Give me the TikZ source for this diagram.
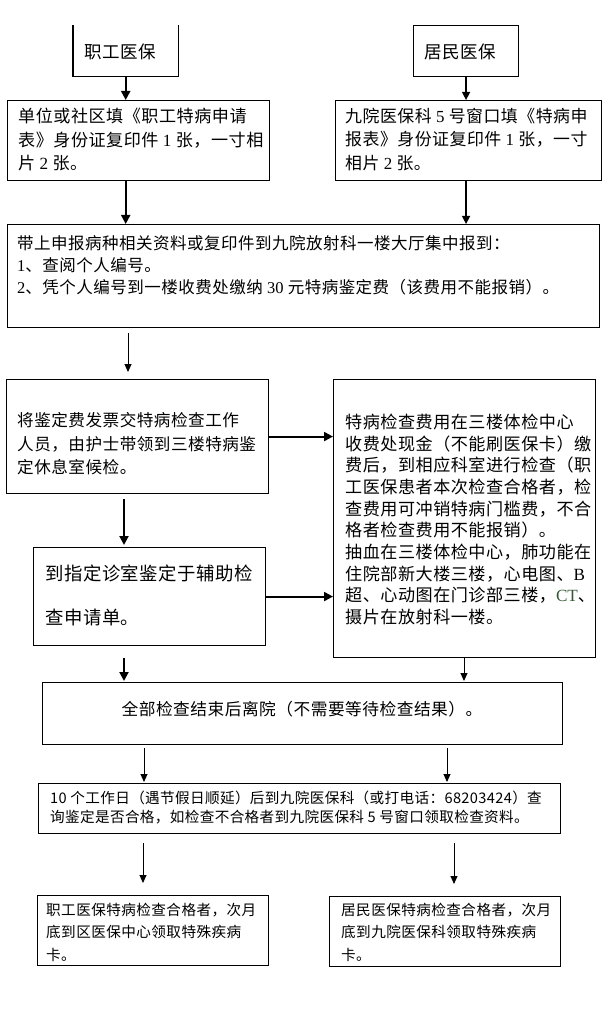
\documentclass[tikz,border=0pt]{standalone}
\usepackage{fontspec}
\setmainfont{Noto Sans CJK SC}
\newfontfamily\lat{Liberation Serif}
\usetikzlibrary{arrows.meta}
\definecolor{ctgreen}{rgb}{0.2,0.35,0.2}
\newcommand\tf[3]{\fontsize{#1}{#2}\selectfont\addfontfeature{LetterSpace=#3}}
\begin{document}
\begin{tikzpicture}[x=1pt,y=-1pt,
  box/.style={draw, line width=1.1pt, inner sep=0pt, anchor=north west},
  txt/.style={inner sep=0pt, align=left, anchor=west},
  thickarr/.style={line width=2pt, -{Triangle[length=9pt,width=9pt]}},
  midarr/.style={line width=1.4pt, -{Triangle[length=8pt,width=8pt]}},
  thinarr/.style={line width=0.9pt, -{Triangle[length=8pt,width=7pt]}},
]
\fill[white] (0,0) rectangle (603,1024);
\useasboundingbox (0,0) rectangle (603,1024);

% boxes
\node[minimum width=105pt, minimum height=51pt, inner sep=0pt, anchor=north west] (a) at (73,25) {};
\draw[line width=1.1pt] (a.north west) -- (a.south west) -- (a.south east) -- (a.north east);
\node[box, minimum width=105pt, minimum height=51pt] (b) at (413,25) {};
\node[box, minimum width=262pt, minimum height=80pt] (c) at (7,100) {};
\node[box, minimum width=266pt, minimum height=80pt] (d) at (335,100) {};
\node[box, minimum width=592pt, minimum height=103pt] (e) at (7,224) {};
\node[box, minimum width=262pt, minimum height=114pt] (f) at (6,379) {};
\node[box, minimum width=232pt, minimum height=98pt] (g) at (33,547) {};
\node[box, minimum width=262pt, minimum height=278pt] (h) at (333,379) {};
\node[box, minimum width=520pt, minimum height=62pt] (i) at (42,682) {};
\node[box, minimum width=522pt, minimum height=50pt] (j) at (38,783) {};
\node[box, minimum width=231pt, minimum height=70pt] (k) at (37,895) {};
\node[box, minimum width=231pt, minimum height=70pt] (l) at (329,896) {};

% texts
\node[txt, anchor=center, font=\tf{17.5}{20}{3}] (at) at (120,52) {职工医保};
\node[txt, anchor=center, font=\tf{17.5}{20}{3}] (bt) at (460,52) {居民医保};
\node[txt, font=\tf{17.1}{23.5}{3}] (ct) at (18,139.5)
  {单位或社区填《职工特病申请\\表》身份证复印件 {\lat 1} 张，一寸相\\片 {\lat 2} 张。};
\node[txt, font=\tf{16.9}{23.5}{3}] (dt) at (345,139.5)
  {九院医保科 {\lat 5} 号窗口填《特病申\\报表》身份证复印件 {\lat 1} 张，一寸\\相片 {\lat 2} 张。};
\node[txt, font=\tf{16.5}{22}{3}] (et) at (17,265)
  {带上申报病种相关资料或复印件到九院放射科一楼大厅集中报到：\\{\lat 1}、查阅个人编号。\\{\lat 2}、凭个人编号到一楼收费处缴纳 {\lat 30} 元特病鉴定费（该费用不能报销）。};
\node[txt, font=\tf{16.6}{23.5}{3}] (ft) at (17,444)
  {将鉴定费发票交特病检查工作\\人员，由护士带领到三楼特病鉴\\定休息室候检。};
\node[txt, font=\tf{18.4}{44}{3}] (gt) at (45,595)
  {到指定诊室鉴定于辅助检\\查申请单。};
\node[txt, font=\tf{17.1}{21.7}{3}] (ht) at (345,519.5)
  {特病检查费用在三楼体检中心\\收费处现金（不能刷医保卡）缴\\费后，到相应科室进行检查（职\\工医保患者本次检查合格者，检\\查费用可冲销特病门槛费，不合\\格者检查费用不能报销）。\\抽血在三楼体检中心，肺功能在\\住院部新大楼三楼，心电图、{\lat B}\\超、心动图在门诊部三楼，\textcolor{ctgreen}{\lat CT}、\\摄片在放射科一楼。};
\node[txt, anchor=center, font=\tf{16.7}{20}{3}] (it) at (302,709)
  {全部检查结束后离院（不需要等待检查结果）。};
\node[txt, font=\tf{14.6}{19}{2.5}] (jt) at (50,808)
  {10 个工作日（遇节假日顺延）后到九院医保科（或打电话：68203424）查\\询鉴定是否合格，如检查不合格者到九院医保科 5 号窗口领取检查资料。};
\node[txt, font=\tf{14.6}{22.5}{3}] (kt) at (46,932)
  {职工医保特病检查合格者，次月\\底到区医保中心领取特殊疾病\\卡。};
\node[txt, font=\tf{14.6}{22.5}{3}] (lt) at (341,932)
  {居民医保特病检查合格者，次月\\底到九院医保科领取特殊疾病\\卡。};

% helper x positions
\coordinate (xef) at (128,0);
\coordinate (xfg) at (124,0);
\coordinate (xhi) at (464,0);
\coordinate (xil) at (144,0);
\coordinate (xir) at (447,0);
\coordinate (xjl) at (143,0);
\coordinate (xjr) at (454,0);

% connectors
\draw[thickarr] (a.south) -- (a.south |- c.north);
\draw[midarr] (b.south) -- (b.south |- d.north);
\draw[thickarr] (a.south |- c.south) -- (a.south |- e.north);
\draw[midarr] (b.south |- d.south) -- (b.south |- e.north);
\draw[thinarr, shorten <=5pt, shorten >=7pt] (e.south -| xef) -- (f.north -| xef);
\draw[thickarr, shorten <=5pt, shorten >=2pt] (f.south -| xfg) -- (g.north -| xfg);
\draw[thickarr] (f.east) -- (f.east -| h.west);
\draw[thickarr] (g.east) -- (g.east -| h.west);
\draw[thickarr, shorten <=12pt, shorten >=1pt] (g.south -| xfg) -- (i.north -| xfg);
\draw[thinarr, shorten >=1pt] (h.south -| xhi) -- (i.north -| xhi);
\draw[thinarr, shorten <=3pt, shorten >=1pt] (i.south -| xil) -- (j.north -| xil);
\draw[thinarr, shorten <=3pt, shorten >=1pt] (i.south -| xir) -- (j.north -| xir);
\draw[thinarr, shorten <=9pt, shorten >=12pt] (j.south -| xjl) -- (k.north -| xjl);
\draw[thinarr, shorten <=9pt, shorten >=12pt] (j.south -| xjr) -- (l.north -| xjr);
\end{tikzpicture}
\end{document}
